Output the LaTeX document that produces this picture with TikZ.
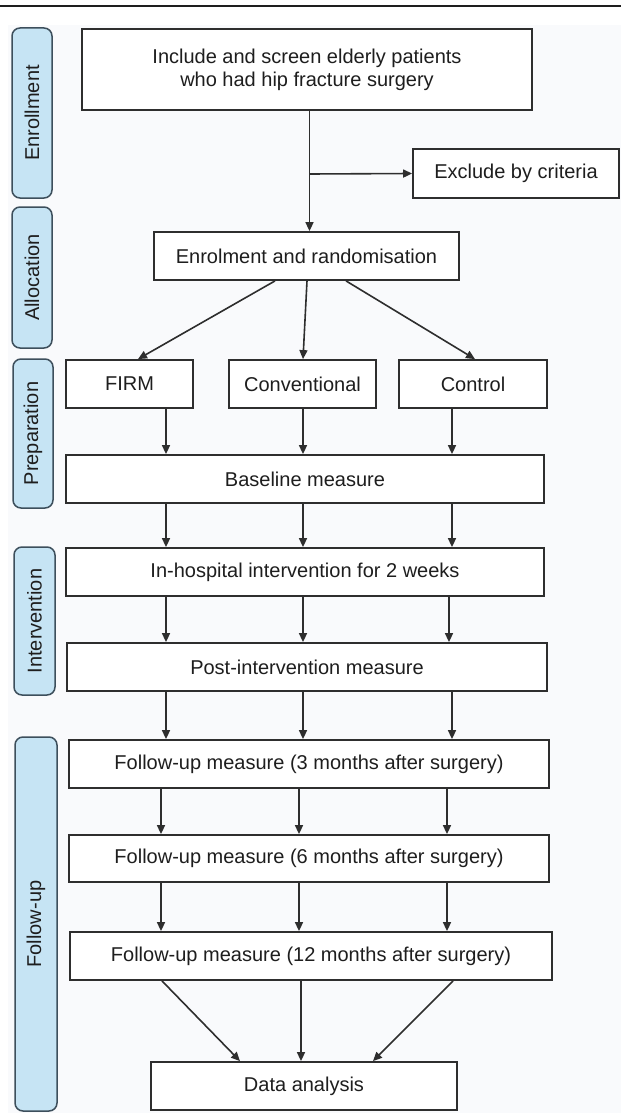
\documentclass[tikz,border=0pt]{standalone}
\usepackage{fontspec}
\setmainfont{Liberation Sans}
\usetikzlibrary{arrows.meta}
\definecolor{boxline}{HTML}{2E2E2E}
\definecolor{phasefill}{HTML}{C6E4F4}
\definecolor{phaseline}{HTML}{3D4F5C}
\definecolor{bgfill}{HTML}{F9FAFC}
\definecolor{txt}{HTML}{1E1E1E}
\tikzset{
  stepbox/.style={draw=boxline, line width=1.8pt, fill=white, text=txt, inner sep=0pt,
    font=\fontsize{20}{23}\selectfont, align=center},
  phase/.style={draw=phaseline, line width=1.5pt, fill=phasefill, rounded corners=8pt},
  phasetext/.style={text=txt, rotate=90, font=\fontsize{20}{23}\selectfont},
  arr/.style={draw=boxline, line width=1.6pt, -{Triangle[length=9pt,width=8pt]}}
}
\begin{document}
\begin{tikzpicture}[x=1pt,y=-1pt]
\useasboundingbox (0,0) rectangle (621,1113);
\fill[bgfill] (8,25) rectangle (621,1113);
\draw[line width=2.8pt, txt] (0,6) -- (621,6);

% phase labels
\draw[phase] (12,28) rectangle (52,198);
\node[phasetext] (pEnr) at (32,113) {Enrollment};
\draw[phase] (12,207) rectangle (52,348);
\node[phasetext] (pAll) at (32,277.5) {Allocation};
\draw[phase] (13,359) rectangle (53,508);
\node[phasetext] (pPre) at (33,433.5) {Preparation};
\draw[phase] (14,547) rectangle (55,695);
\node[phasetext] (pInt) at (34.5,621) {Intervention};
\draw[phase] (15,737) rectangle (57,1111);
\node[phasetext] (pFol) at (36,924) {Follow-up};

% boxes
\node[stepbox, minimum width=450pt, minimum height=81pt] (include) at (307,69.5)
  {Include and screen elderly patients\\who had hip fracture surgery};
\node[stepbox, minimum width=206pt, minimum height=49pt] (exclude) at (516,173.5) {Exclude by criteria};
\node[stepbox, minimum width=305pt, minimum height=48pt] (enrol) at (306.5,256) {Enrolment and randomisation};
\node[stepbox, minimum width=127pt, minimum height=48pt] (firm) at (129.5,384) {FIRM};
\node[stepbox, minimum width=147pt, minimum height=48pt] (conv) at (302.5,384) {Conventional};
\node[stepbox, minimum width=148pt, minimum height=48pt] (ctrl) at (473,384) {Control};
\node[stepbox, minimum width=478pt, minimum height=48pt] (base) at (305,479) {Baseline measure};
\node[stepbox, minimum width=478pt, minimum height=48pt] (inhosp) at (305,572) {In-hospital intervention for 2 weeks};
\node[stepbox, minimum width=480pt, minimum height=48pt] (post) at (307,667) {Post-intervention measure};
\node[stepbox, minimum width=480pt, minimum height=48pt] (fu3) at (309,764) {Follow-up measure (3 months after surgery)};
\node[stepbox, minimum width=480pt, minimum height=47pt] (fu6) at (309,858.5) {Follow-up measure (6 months after surgery)};
\node[stepbox, minimum width=482pt, minimum height=48pt] (fu12) at (311,956) {Follow-up measure (12 months after surgery)};
\node[stepbox, minimum width=306pt, minimum height=48pt] (da) at (304,1086) {Data analysis};

% column coordinates
\coordinate (main) at (309.5,0);
\coordinate (br) at (309.5,174);
\coordinate (eL) at (275,0);
\coordinate (eM) at (307,0);
\coordinate (eR) at (346,0);
\coordinate (tL) at (138,0);
\coordinate (tM) at (303,0);
\coordinate (tR) at (475,0);
\coordinate (cA) at (166,0);
\coordinate (cB) at (303,0);
\coordinate (cC) at (452,0);
\coordinate (cD) at (449,0);
\coordinate (cA2) at (161,0);
\coordinate (cB2) at (299,0);
\coordinate (cC2) at (447,0);
\coordinate (dL) at (162,0);
\coordinate (dM) at (301,0);
\coordinate (dR) at (453,0);
\coordinate (gL) at (240,0);
\coordinate (gR) at (373,0);

% connectors
\draw[arr] (include.south -| main) -- (enrol.north -| main);
\draw[arr] (br) -- (exclude.west);

\draw[arr] (enrol.south -| eL) -- (firm.north -| tL);
\draw[arr] (enrol.south -| eM) -- (conv.north -| tM);
\draw[arr] (enrol.south -| eR) -- (ctrl.north -| tR);

\draw[arr] (firm.south -| cA) -- (base.north -| cA);
\draw[arr] (conv.south -| cB) -- (base.north -| cB);
\draw[arr] (ctrl.south -| cC) -- (base.north -| cC);

\draw[arr] (base.south -| cA) -- (inhosp.north -| cA);
\draw[arr] (base.south -| cB) -- (inhosp.north -| cB);
\draw[arr] (base.south -| cC) -- (inhosp.north -| cC);

\draw[arr] (inhosp.south -| cA) -- (post.north -| cA);
\draw[arr] (inhosp.south -| cB) -- (post.north -| cB);
\draw[arr] (inhosp.south -| cD) -- (post.north -| cD);

\draw[arr] (post.south -| cA) -- (fu3.north -| cA);
\draw[arr] (post.south -| cB) -- (fu3.north -| cB);
\draw[arr] (post.south -| cC) -- (fu3.north -| cC);

\draw[arr] (fu3.south -| cA2) -- (fu6.north -| cA2);
\draw[arr] (fu3.south -| cB2) -- (fu6.north -| cB2);
\draw[arr] (fu3.south -| cC2) -- (fu6.north -| cC2);

\draw[arr] (fu6.south -| cA2) -- (fu12.north -| cA2);
\draw[arr] (fu6.south -| cB2) -- (fu12.north -| cB2);
\draw[arr] (fu6.south -| cC2) -- (fu12.north -| cC2);

\draw[arr] (fu12.south -| dL) -- (da.north -| gL);
\draw[arr] (fu12.south -| dM) -- (da.north -| dM);
\draw[arr] (fu12.south -| dR) -- (da.north -| gR);
\end{tikzpicture}
\end{document}
